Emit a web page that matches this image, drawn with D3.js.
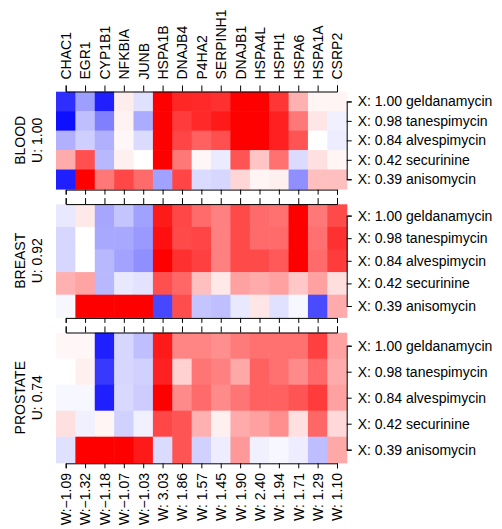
<!DOCTYPE html>
<html>
<head>
<meta charset="utf-8">
<script src="https://cdn.jsdelivr.net/npm/d3@7"></script>
<style>
  html, body { margin: 0; padding: 0; background: #fff; }
  svg { display: block; }
</style>
</head>
<body>
<svg id="chart" width="502" height="529"></svg>
<script>
// ---------------- data ----------------
const genes = ["CHAC1","EGR1","CYP1B1","NFKBIA","JUNB","HSPA1B","DNAJB4","P4HA2","SERPINH1","DNAJB1","HSPA4L","HSPH1","HSPA6","HSPA1A","CSRP2"];
const geneWeights = [-1.09,-1.32,-1.18,-1.07,-1.03,3.03,1.86,1.57,1.45,1.90,2.40,1.94,1.71,1.29,1.10];
const drugs = ["geldanamycin","tanespimycin","alvespimycin","securinine","anisomycin"];
const drugScores = [1.00,0.98,0.84,0.42,0.39];
const tissues = ["BLOOD","BREAST","PROSTATE"];
const tissueScores = [1.00,0.92,0.74];

const bloodValues = [
  [-0.82,-0.38,-0.88, 0.07,-0.12, 1.00, 0.85, 0.84, 0.81, 1.00, 1.00, 0.79, 0.31, 0.04, 0.04],
  [-0.94,-0.25,-0.50, 0.05,-0.33, 1.00, 0.77, 0.84, 0.90, 1.00, 1.00, 0.87, 0.53, 0.10,-0.06],
  [-0.31,-0.19,-0.31, 0.03,-0.14, 1.00, 0.73, 0.62, 0.69, 1.00, 1.00, 0.87, 0.67, 0.00,-0.07],
  [ 0.33, 0.69,-0.28, 0.06, 0.00, 1.00, 0.53, 0.03,-0.08, 0.67, 0.23, 0.56,-0.14, 0.12, 0.04],
  [-0.88, 1.00, 0.53, 0.72, 0.58,-0.37, 0.73,-0.14,-0.16, 0.16, 0.04, 0.06,-0.44, 0.25, 0.25]
];
const breastValues = [
  [-0.09, 0.09,-0.35,-0.23,-0.37, 0.90, 0.72, 0.58, 0.50, 0.71, 0.58, 0.56, 1.00, 0.53, 0.71],
  [-0.16, 0.00,-0.34,-0.34,-0.40, 0.94, 0.71, 0.73, 0.50, 0.71, 0.58, 0.58, 1.00, 0.56, 0.81],
  [-0.16, 0.00,-0.28,-0.36,-0.44, 1.00, 0.81, 0.75, 0.50, 0.71, 0.71, 0.65, 1.00, 0.58, 0.77],
  [ 0.31, 0.36,-0.28,-0.09,-0.11, 0.69, 0.60, 0.25, 0.09, 0.37, 0.33, 0.37, 0.22, 0.37, 0.13],
  [-0.03, 1.00, 1.00, 1.00, 1.00,-0.72, 0.70,-0.23,-0.25,-0.09, 0.10,-0.12,-0.03,-0.71, 0.33]
];
const prostateValues = [
  [ 0.03, 0.03,-0.88,-0.16,-0.25, 0.90, 0.48, 0.48, 0.44, 0.52, 0.56, 0.56, 0.56, 0.75, 0.37],
  [ 0.00, 0.06,-0.78,-0.16,-0.18, 0.87, 0.18, 0.54, 0.50, 0.34, 0.62, 0.56, 0.46, 0.59, 0.33],
  [-0.03,-0.03,-0.88,-0.15,-0.20, 1.00, 0.46, 0.58, 0.46, 0.54, 0.62, 0.62, 0.67, 0.77, 0.37],
  [ 0.12,-0.06, 0.04,-0.18,-0.06, 0.72, 0.67, 0.31, 0.06, 0.33, 0.37, 0.44, 0.12, 0.60, 0.15],
  [-0.12, 1.00, 1.00, 1.00, 0.90,-0.14, 0.67,-0.18,-0.07, 0.40,-0.06,-0.03,-0.07,-0.26, 0.34]
];
const panelValues = [bloodValues, breastValues, prostateValues];

// ---------------- layout ----------------
const svg = d3.select("#chart");
const FONT = "'Liberation Sans', Arial, Helvetica, sans-serif";
const left = 56, right = 346.7;
const panelTop = [91.7, 204.3, 332.7];
const panelBottom = [189.0, 317.3, 462.7];
const fmt = d3.format(" .2f");

const x = d3.scaleBand().domain(genes).range([left, right]).padding(0);
const xPoint = d3.scalePoint().domain(genes)
  .range([left + x.bandwidth() / 2, right - x.bandwidth() / 2]);

const color = d3.scaleLinear().domain([-1, 0, 1]).range(["#0000ff", "#ffffff", "#ff0000"]).clamp(true);

tissues.forEach((tissue, p) => {
  const y = d3.scaleBand().domain(drugs).range([panelTop[p], panelBottom[p]]).padding(0);
  const yPoint = d3.scalePoint().domain(drugs)
    .range([panelTop[p] + y.bandwidth() / 2, panelBottom[p] - y.bandwidth() / 2]);

  const cells = [];
  panelValues[p].forEach((row, i) => row.forEach((v, j) => cells.push({drug: drugs[i], gene: genes[j], v})));

  const g = svg.append("g");
  g.selectAll("rect").data(cells).join("rect")
    .attr("x", d => x(d.gene))
    .attr("y", d => y(d.drug))
    .attr("width", x.bandwidth() + 0.6)
    .attr("height", y.bandwidth() + 0.6)
    .attr("fill", d => color(d.v));

  // top axis
  const top = svg.append("g")
    .attr("transform", `translate(0,${panelTop[p] - 0.2})`)
    .call(d3.axisTop(xPoint).tickSize(6).tickSizeOuter(6).tickFormat(p === 0 ? (d => d) : () => ""));
  top.selectAll("text")
    .attr("font-family", FONT).attr("font-size", 14).attr("fill", "#000")
    .attr("transform", "rotate(-90)")
    .attr("x", 12).attr("y", 0).attr("dy", "0.35em")
    .style("text-anchor", "start");
  top.attr("font-size", null).attr("font-family", null);

  // bottom axis
  const bottom = svg.append("g")
    .attr("transform", `translate(0,${panelBottom[p] + 0.6})`)
    .call(d3.axisBottom(xPoint).tickSize(5).tickSizeOuter(5)
      .tickFormat(p === 2 ? ((d, i) => "W:" + fmt(geneWeights[i])) : () => ""));
  bottom.selectAll("text")
    .attr("font-family", FONT).attr("font-size", 14).attr("fill", "#000")
    .attr("transform", "rotate(-90)")
    .attr("x", -9.7).attr("y", 0).attr("dy", "0.35em")
    .style("text-anchor", "end");
  bottom.attr("font-size", null).attr("font-family", null);

  // right axis
  const rightAxis = svg.append("g")
    .attr("transform", `translate(${right},0)`)
    .call(d3.axisRight(yPoint).tickSize(5).tickSizeOuter(5).tickPadding(6)
      .tickFormat((d, i) => "X:" + fmt(drugScores[i]) + " " + d));
  rightAxis.selectAll("text")
    .attr("font-family", FONT).attr("font-size", 14).attr("fill", "#000");
  rightAxis.attr("font-size", null).attr("font-family", null);

  // left panel label
  const cy = (panelTop[p] + panelBottom[p]) / 2;
  const lab = svg.append("text")
    .attr("transform", `translate(25,${cy}) rotate(-90)`)
    .attr("font-family", FONT).attr("font-size", 14).attr("fill", "#000")
    .attr("text-anchor", "middle");
  lab.append("tspan").attr("x", 0).attr("y", 0).text(tissue);
  lab.append("tspan").attr("x", 0).attr("y", 16.7).text("U:" + fmt(tissueScores[p]));
});
</script>
</body>
</html>
